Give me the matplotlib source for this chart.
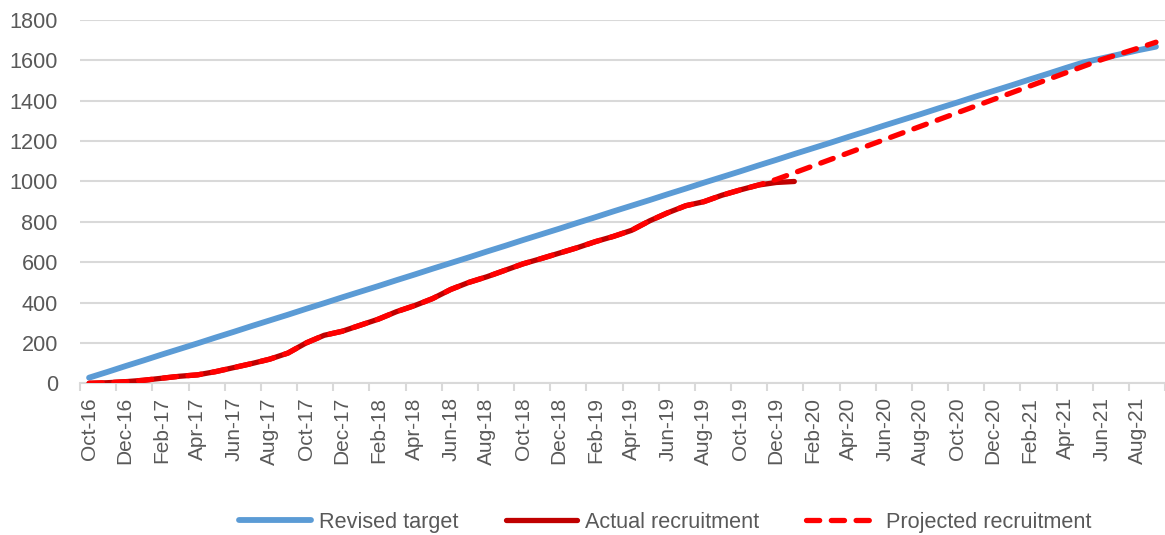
import matplotlib
matplotlib.use("Agg")
import matplotlib.pyplot as plt
import numpy as np
import pandas as pd

plt.rcParams['font.family'] = ['Liberation Sans', 'DejaVu Sans']

# monthly categories Oct-16 .. Sep-21
months = list(pd.date_range('2016-10-01', periods=60, freq='MS').strftime('%b-%y'))

revised_target = [28, 56, 85, 113, 142, 170, 198, 227, 255, 284,
                  312, 340, 369, 397, 426, 454, 482, 511, 539, 568,
                  596, 624, 653, 681, 710, 738, 766, 795, 823, 852,
                  880, 908, 937, 965, 994, 1022, 1050, 1079, 1107, 1136,
                  1164, 1192, 1221, 1249, 1278, 1306, 1334, 1363, 1391, 1420,
                  1448, 1476, 1505, 1533, 1562, 1590, 1610, 1630, 1650, 1668]

actual = [0, 3, 8, 15, 25, 35, 42, 58, 78, 98,
          120, 150, 200, 238, 258, 288, 318, 355, 385, 420,
          465, 500, 528, 560, 592, 618, 645, 672, 702, 728,
          758, 805, 845, 880, 900, 932, 958, 982, 995, 1000]

projected = actual[:38] + [1010, 1043,
                           1076, 1109, 1142, 1175, 1208, 1241, 1274, 1307, 1340, 1373,
                           1406, 1439, 1472, 1505, 1538, 1571, 1604, 1632, 1660, 1690]

grey = '#595959'
grid = '#D9D9D9'

fig = plt.figure(figsize=(11.65, 5.35), dpi=100)
ax = fig.add_axes([0.0687, 0.2835, 0.9313, 0.6791])

x = np.arange(len(months))
ax.plot(x, revised_target, color='#5B9BD5', lw=4.2, solid_capstyle='round',
        solid_joinstyle='round', label='Revised target', zorder=3)
ax.plot(np.arange(len(actual)), actual, color='#C00000', lw=3.8, solid_capstyle='round',
        solid_joinstyle='round', label='Actual recruitment', zorder=4)
ax.plot(np.arange(len(projected)), projected, color='#FF0000', lw=3.8, ls=(0, (2.5, 2.2)),
        dash_capstyle='round', label='Projected recruitment', zorder=5)

ax.set_xlim(-0.5, len(months) - 0.5)
ax.set_ylim(0, 1800)
ax.set_yticks(np.arange(0, 1801, 200))
ax.yaxis.grid(True, color=grid, lw=1.5)
ax.set_axisbelow(True)

for s in ['top', 'right', 'left']:
    ax.spines[s].set_visible(False)
ax.spines['bottom'].set_color(grid)
ax.spines['bottom'].set_linewidth(1.5)

# labels at every 2nd category, tick marks at category boundaries
ax.set_xticks(x[::2])
ax.set_xticklabels(months[::2], rotation=90)
ax.set_xticks(np.arange(-0.5, len(months), 2), minor=True)
ax.tick_params(axis='x', which='major', length=0, pad=10, labelsize=15, labelcolor=grey)
ax.tick_params(axis='x', which='minor', length=6, width=1.5, color=grid)
ax.tick_params(axis='y', length=0, pad=16, labelsize=15.6, labelcolor=grey)

fig.legend(loc='center', bbox_to_anchor=(0.571, 0.024), ncol=3, frameon=False,
           fontsize=15.6, labelcolor=grey, handlelength=3.3, handletextpad=0.35,
           columnspacing=2.2)

fig.savefig('out.png', dpi=100)
